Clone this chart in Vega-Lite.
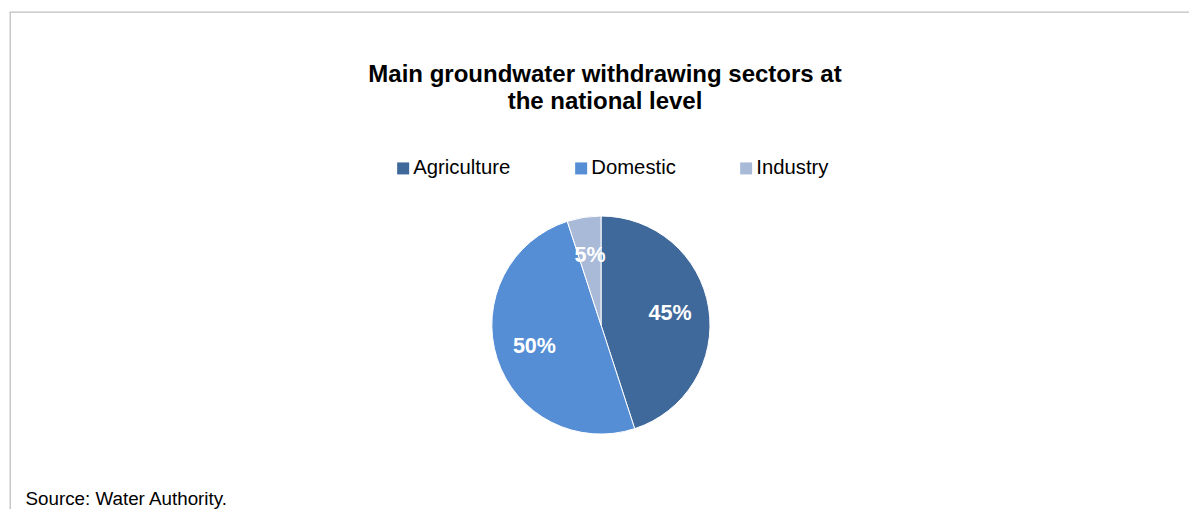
{
  "$schema": "https://vega.github.io/schema/vega-lite/v6.json",
  "width": 1189,
  "height": 509,
  "autosize": {"type": "fit", "contains": "padding"},
  "padding": {"left": 10, "top": 12, "right": -1, "bottom": -1},
  "background": "white",
  "data": {
    "values": [
      {"sector": "Agriculture", "share": 0.45},
      {"sector": "Domestic", "share": 0.50},
      {"sector": "Industry", "share": 0.05}
    ]
  },
  "title": {
    "text": ["Main groundwater withdrawing sectors at", "the national level"],
    "anchor": "middle",
    "frame": "group",
    "orient": "top",
    "offset": -102,
    "fontSize": 24,
    "fontWeight": "bold",
    "font": "Liberation Sans",
    "color": "#000000",
    "lineHeight": 27,
    "dx": 5
  },
  "layer": [
    {
      "mark": {"type": "arc", "outerRadius": 109, "stroke": "#ffffff", "strokeWidth": 1, "xOffset": 1, "yOffset": 64},
      "encoding": {
        "theta": {"field": "share", "type": "quantitative", "stack": true},
        "order": {"field": "sector", "type": "nominal", "sort": "ascending"},
        "color": {
          "field": "sector",
          "type": "nominal",
          "scale": {"domain": ["Agriculture", "Domestic", "Industry"], "range": ["#3F689B", "#558ED5", "#A9B9D8"]},
          "legend": {
            "orient": "none",
            "legendX": 383,
            "legendY": 146,
            "direction": "horizontal",
            "title": null,
            "symbolType": "square",
            "symbolSize": 144,
            "symbolStrokeWidth": 0,
            "labelFontSize": 20.3,
            "labelFont": "Liberation Sans",
            "labelColor": "#000000",
            "labelOffset": 0,
            "columnPadding": 60
          }
        }
      }
    },
    {
      "mark": {"type": "text", "radius": 70, "xOffset": 1, "yOffset": 64, "fontSize": 21.5, "fontWeight": "bold", "color": "#ffffff", "font": "Liberation Sans"},
      "encoding": {
        "theta": {"field": "share", "type": "quantitative", "stack": true},
        "order": {"field": "sector", "type": "nominal", "sort": "ascending"},
        "detail": {"field": "sector", "type": "nominal"},
        "text": {"field": "share", "type": "quantitative", "format": ".0%"}
      }
    },
    {
      "mark": {"type": "rule", "opacity": 0},
      "encoding": {
        "x": {
          "datum": 0,
          "type": "quantitative",
          "axis": {
            "title": "Source: Water Authority.",
            "orient": "bottom",
            "domain": false,
            "ticks": false,
            "labels": false,
            "grid": false,
            "titleFontSize": 18.8,
            "titleFontWeight": "normal",
            "titleColor": "#000000",
            "titleFont": "Liberation Sans",
            "titleAnchor": "start",
            "titleAlign": "left",
            "titleBaseline": "alphabetic",
            "titleX": 15,
            "titleY": -6
          }
        }
      }
    }
  ],
  "config": {
    "view": {"stroke": "#BFBFBF", "strokeWidth": 1.3},
    "font": "Liberation Sans"
  }
}
